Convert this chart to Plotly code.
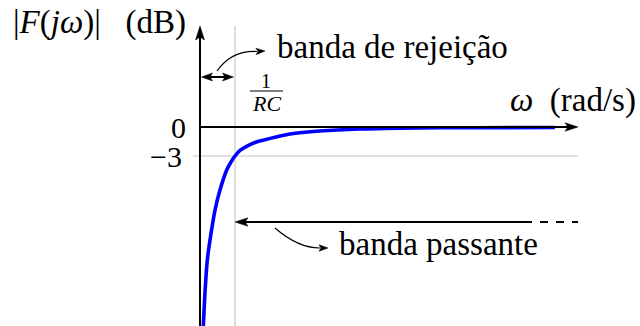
import plotly.graph_objects as go

# Magnitude response of the RC high-pass filter, normalised frequency ω·RC
omega_rc = [0.086, 0.094, 0.143, 0.209, 0.286, 0.429, 0.571, 0.763, 0.886, 1.0,
            1.143, 1.343, 1.571, 1.829, 2.171, 2.571, 3.429, 4.571, 6.286, 8.0, 10.14]
gain_db = [-21.0, -20.6, -17.1, -13.76, -11.69, -8.59, -6.52, -4.45, -3.62, -3.0,
           -2.43, -1.97, -1.60, -1.34, -1.03, -0.72, -0.41, -0.21, -0.10, -0.07, -0.05]

# Tick values / labels
y_tick_vals = [0, -3]
y_tick_text = ["0", "\u22123"]
cutoff_omega = 1.0  # ω = 1/RC

# Axis scale (pixels per unit) and view window
W, H = 640, 326
PX_X = 35.0
PX_Y = 29.0 / 3.0
X0_PX, Y0_PX = 200.0, 127.0
X_RANGE = [-X0_PX / PX_X, (W - X0_PX) / PX_X]
Y_RANGE = [-(H - Y0_PX) / PX_Y, Y0_PX / PX_Y]

X_END = 378 / PX_X    # end of the ω axis arrow
Y_END = 101 / PX_Y    # end of the gain axis arrow

FONT = "Liberation Serif"
SP = "\u00a0"


def dx(px):
    return px / PX_X


def dy(px):
    return px / PX_Y


def head(tip_x, tip_y, ux, uy, length=13, width=8.5, color="black"):
    """Filled arrow head; tip in data units, direction (ux, uy) in screen pixels (y up)."""
    n = (ux ** 2 + uy ** 2) ** 0.5
    ux, uy = ux / n, uy / n
    px, py = -uy, ux
    bx, by = -ux * length, -uy * length
    pts = [(0, 0),
           (bx + px * width / 2, by + py * width / 2),
           (bx * 0.78, by * 0.78),
           (bx - px * width / 2, by - py * width / 2)]
    path = "M " + " L ".join(f"{tip_x + dx(a):.5f},{tip_y + dy(b):.5f}" for a, b in pts) + " Z"
    return dict(type="path", path=path, xref="x", yref="y", fillcolor=color,
                line=dict(color=color, width=0.5), layer="above")


fig = go.Figure()

fig.add_trace(go.Scatter(
    x=omega_rc, y=gain_db, mode="lines",
    line=dict(color="#0000ff", width=3.6, shape="spline", smoothing=1.0),
    hoverinfo="skip", showlegend=False))

shapes = []
gray = "#c4c4c4"
# guide lines at ω = 1/RC and −3 dB
shapes.append(dict(type="line", xref="x", yref="y", x0=cutoff_omega, x1=cutoff_omega,
                   y0=Y_RANGE[0], y1=Y_END, line=dict(color=gray, width=1.1), layer="below"))
shapes.append(dict(type="line", xref="x", yref="y", x0=dx(-7), x1=X_END,
                   y0=y_tick_vals[1], y1=y_tick_vals[1], line=dict(color=gray, width=1.1), layer="below"))

# axes
shapes.append(dict(type="line", xref="x", yref="y", x0=0, x1=X_END - dx(8), y0=0, y1=0,
                   line=dict(color="black", width=2)))
shapes.append(head(X_END, 0, 1, 0, length=13, width=8.5))
shapes.append(dict(type="line", xref="x", yref="y", x0=0, x1=0, y0=Y_RANGE[0], y1=Y_END - dy(8),
                   line=dict(color="black", width=2)))
shapes.append(head(0, Y_END, 0, 1, length=14, width=9))

# rejection band: double arrow between 0 and 1/RC
yb = dy(127 - 77)
shapes.append(dict(type="line", xref="x", yref="y", x0=dx(6), x1=cutoff_omega - dx(6), y0=yb, y1=yb,
                   line=dict(color="black", width=2)))
shapes.append(head(dx(1.5), yb, -1, 0, length=11, width=8))
shapes.append(head(cutoff_omega - dx(1.5), yb, 1, 0, length=11, width=8))

# curved pointer to "banda de rejeição"
p0 = (dx(217 - 200), dy(127 - 71))
pc = (dx(232 - 200), dy(127 - 50))
p1 = (dx(257 - 200), dy(127 - 51.5))
shapes.append(dict(type="path", xref="x", yref="y",
                   path=f"M {p0[0]:.5f},{p0[1]:.5f} Q {pc[0]:.5f},{pc[1]:.5f} {p1[0]:.5f},{p1[1]:.5f}",
                   line=dict(color="black", width=1.2)))
shapes.append(head(dx(265 - 200), dy(127 - 51), 1, 0.05, length=9, width=6.5))

# pass band: arrow from far right back to 1/RC, dashed continuation
yp = -dy(222 - 127)
shapes.append(dict(type="line", xref="x", yref="y", x0=cutoff_omega + dx(8), x1=dx(532 - 200), y0=yp, y1=yp,
                   line=dict(color="black", width=2)))
shapes.append(dict(type="line", xref="x", yref="y", x0=dx(540 - 200), x1=X_END, y0=yp, y1=yp,
                   line=dict(color="black", width=2, dash="8px,8px")))
shapes.append(head(cutoff_omega, yp, -1, 0, length=13, width=8.5))

# curved pointer to "banda passante"
q0 = (dx(275 - 200), -dy(228 - 127))
qc = (dx(298 - 200), -dy(248 - 127))
q1 = (dx(320 - 200), -dy(248 - 127))
shapes.append(dict(type="path", xref="x", yref="y",
                   path=f"M {q0[0]:.5f},{q0[1]:.5f} Q {qc[0]:.5f},{qc[1]:.5f} {q1[0]:.5f},{q1[1]:.5f}",
                   line=dict(color="black", width=1.2)))
shapes.append(head(dx(328 - 200), -dy(248 - 127), 1, 0, length=9, width=6.5))

# fraction bar of 1/RC
fy = dy(127 - 91)
shapes.append(dict(type="line", xref="x", yref="y", x0=dx(250 - 200), x1=dx(283 - 200), y0=fy, y1=fy,
                   line=dict(color="black", width=1)))

annotations = []


def text(s, x, y, size, xanchor="left", yanchor="middle"):
    annotations.append(dict(text=s, x=x, y=y, xref="x", yref="y", showarrow=False,
                            xanchor=xanchor, yanchor=yanchor, borderpad=0,
                            font=dict(family=FONT, size=size, color="black")))


# tick labels
text(y_tick_text[0], dx(-13), y_tick_vals[0], 30, xanchor="right")
text(y_tick_text[1], dx(-17), y_tick_vals[1], 30, xanchor="right")

text("1", dx(266 - 200), dy(127 - 81), 20, xanchor="center")
text("<i>RC</i>", dx(266 - 200), dy(127 - 103), 22, xanchor="center")

text(f"|<i>F</i>(<i>jω</i>)|{SP}{SP}{SP}(dB)", dx(12 - 200), dy(127 - 22), 33)
text(f"<i>ω</i>{SP}{SP}(rad/s)", dx(637 - 200), dy(127 - 100), 33, xanchor="right")
text("banda de rejeição", dx(276 - 200), dy(127 - 47), 33)
text("banda passante", dx(338 - 200), -dy(244 - 127), 33)

fig.update_layout(
    width=W, height=H, margin=dict(l=0, r=0, t=0, b=0),
    paper_bgcolor="white", plot_bgcolor="white",
    xaxis=dict(range=X_RANGE, visible=False, fixedrange=True),
    yaxis=dict(range=Y_RANGE, visible=False, fixedrange=True),
    shapes=shapes, annotations=annotations, showlegend=False,
)

fig.write_html("out.html")
